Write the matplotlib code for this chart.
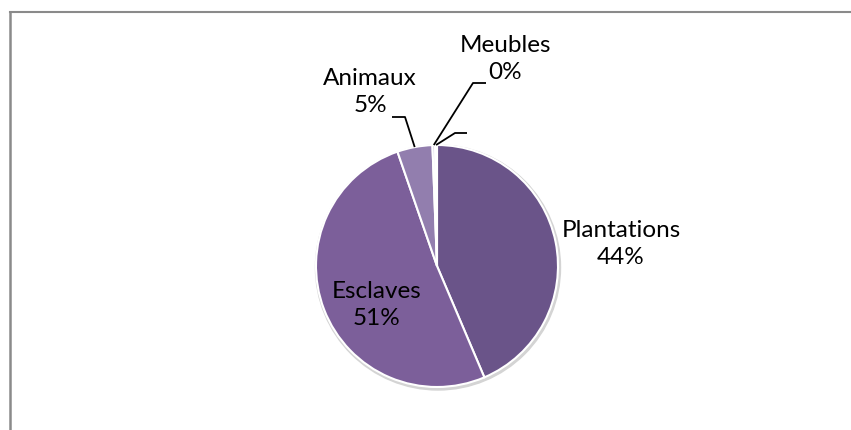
import numpy as np
import matplotlib
matplotlib.use('Agg')
import matplotlib.pyplot as plt
from matplotlib.lines import Line2D
from matplotlib.patches import Circle

plt.rcParams['font.family'] = ['Lato', 'DejaVu Sans']

# data
categories = ['Plantations', 'Esclaves', 'Animaux', 'Meubles', '']
values = [43.6, 51.1, 4.7, 0.35, 0.25]
colors = ['#6a5489', '#7c5f9a', '#927eae', '#c2b6d8', '#ddd6ea']

W, H = 851, 430
fig = plt.figure(figsize=(W / 100, H / 100), dpi=100)
ax = fig.add_axes([0, 0, 1, 1])
ax.set_xlim(0, W)
ax.set_ylim(0, H)
ax.axis('off')

cx, cy, R = 437, H - 266, 121

# soft shadow round the pie
ax.add_patch(Circle((cx + 1, cy - 1.5), R + 1.5, color='#d4d4d4', zorder=0))

wedges, _ = ax.pie(values, colors=colors, startangle=90, counterclock=False,
                   center=(cx, cy), radius=R,
                   wedgeprops=dict(edgecolor='white', linewidth=1.5))
ax.set_xlim(0, W)
ax.set_ylim(0, H)
ax.set_aspect('equal')

total = sum(values)
pcts = ['%d%%' % round(v / total * 100) for v in values]

# label centres (pixels from top-left), None = no label
label_pos = [(621, 244), (377, 305), (370, 92), (505, 59), None]
# leader lines: (text side x, knee x, y) ; None = label inside / next to slice
leaders = [None, None, (392, 405, 117), (486, 473, 83), (467, 455, 133)]

for w, cat, pct, pos, ld in zip(wedges, categories, pcts, label_pos, leaders):
    if pos is not None:
        ax.text(pos[0], H - pos[1], cat + '\n' + pct, ha='center', va='center',
                fontsize=17.5, linespacing=1.3, color='black')
    if ld is not None:
        mid = np.deg2rad((w.theta1 + w.theta2) / 2.0)
        ex, ey = cx + R * np.cos(mid), cy + R * np.sin(mid)
        ax.plot([ld[0], ld[1], ex], [H - ld[2], H - ld[2], ey],
                color='black', lw=1.3, solid_capstyle='butt', zorder=5)

# chart frame (only top and left visible)
fig.add_artist(Line2D([9.5 / W, 1], [1 - 11.5 / H, 1 - 11.5 / H],
                      transform=fig.transFigure, color='#8a8a8a', lw=1.5))
fig.add_artist(Line2D([9.5 / W, 9.5 / W], [0, 1 - 11.5 / H],
                      transform=fig.transFigure, color='#8a8a8a', lw=1.8))

fig.savefig('out.png', dpi=100, facecolor='white')
